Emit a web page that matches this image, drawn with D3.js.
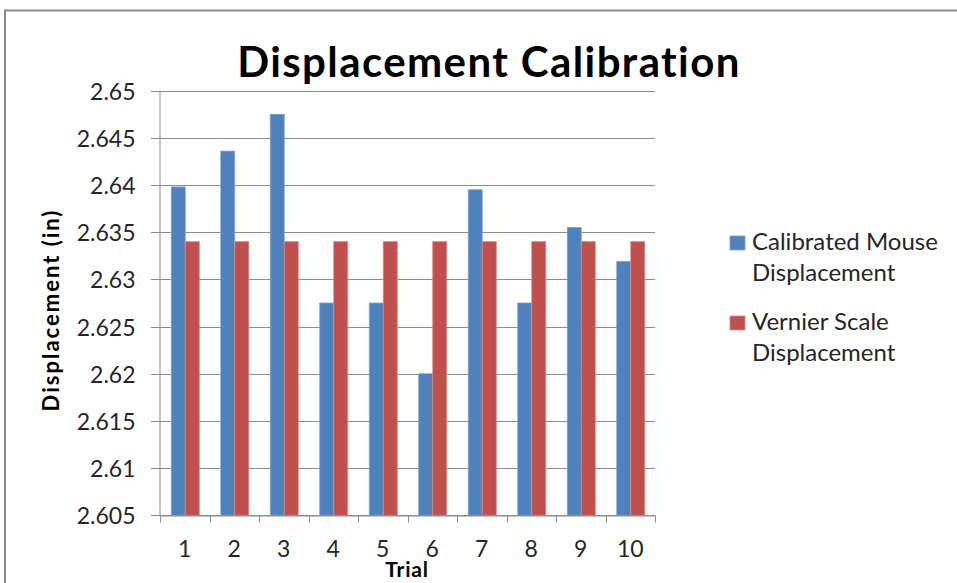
<!DOCTYPE html>
<html>
<head>
<meta charset="utf-8">
<script src="https://cdn.jsdelivr.net/npm/d3@7"></script>
<style>
  html, body { margin: 0; padding: 0; background: #fff; }
  svg { display: block; }
  text { font-family: Lato, "Open Sans", sans-serif; }
</style>
</head>
<body>
<svg id="chart" width="957" height="583"></svg>
<script>
// Trials and the two displacement series (inches)
const trials = ["1", "2", "3", "4", "5", "6", "7", "8", "9", "10"];
const calibratedMouse = [2.6398, 2.6436, 2.6475, 2.6275, 2.6275, 2.6200, 2.6395, 2.6275, 2.6355, 2.6319];
const vernierScale = [2.634, 2.634, 2.634, 2.634, 2.634, 2.634, 2.634, 2.634, 2.634, 2.634];
const seriesNames = ["Calibrated Mouse Displacement", "Vernier Scale Displacement"];
const yTicks = [2.605, 2.61, 2.615, 2.62, 2.625, 2.63, 2.635, 2.64, 2.645, 2.65];

const colors = ["#4F81BD", "#C0504D"];
const edges = ["#7da3d4", "#d98886"];

const svg = d3.select("#chart");
const plot = { left: 160, right: 655, top: 90.7, bottom: 515.3 };

// chart frame
svg.append("path")
  .attr("d", "M5,583 L5,10.5 L957,10.5")
  .attr("fill", "none")
  .attr("stroke", "#8a8a8a")
  .attr("stroke-width", 2);

const x = d3.scaleBand().domain(trials).range([plot.left, plot.right]);
const barW = x.bandwidth() * 0.283;
const inner = d3.scaleBand().domain([0, 1]).range([0, barW * 2]);
const y = d3.scaleLinear().domain([2.605, 2.65]).range([plot.bottom, plot.top]);

// horizontal gridlines
svg.append("g").selectAll("line").data(yTicks).join("line")
  .attr("x1", plot.left - 9).attr("x2", plot.right)
  .attr("y1", d => Math.round(y(d)) + 0.5).attr("y2", d => Math.round(y(d)) + 0.5)
  .attr("stroke", "#8c8c8c").attr("stroke-width", 1);

// y axis
const yAxis = d3.axisLeft(y).tickValues(yTicks).tickSize(0).tickPadding(0)
  .tickFormat(d => d3.format("")(+d.toFixed(3)));
const yg = svg.append("g").attr("transform", `translate(${plot.left - 0.5},0.5)`).call(yAxis);
yg.select(".domain").attr("stroke", "#8c8c8c");
yg.selectAll("text")
  .attr("x", -24).attr("dy", "0.35em")
  .attr("font-size", 23).attr("fill", "#262626")
  .attr("font-family", "Lato, sans-serif");

// bars
const series = [calibratedMouse, vernierScale];
series.forEach((vals, si) => {
  svg.append("g").selectAll("rect").data(vals).join("rect")
    .attr("x", (d, i) => x(trials[i]) + (x.bandwidth() - barW * 2) / 2 + inner(si) + 0.5)
    .attr("width", inner.bandwidth())
    .attr("y", d => y(d))
    .attr("height", d => plot.bottom - y(d))
    .attr("fill", colors[si])
    .attr("stroke", edges[si])
    .attr("stroke-width", 0.8);
});

// x axis
const xAxis = d3.axisBottom(x).tickSize(0).tickPadding(0);
const xg = svg.append("g").attr("transform", `translate(0,${Math.round(plot.bottom) + 0.5})`).call(xAxis);
xg.select(".domain").attr("stroke", "#8c8c8c");
xg.selectAll("text")
  .attr("y", 33).attr("dy", "0.35em")
  .attr("font-size", 23).attr("fill", "#262626")
  .attr("font-family", "Lato, sans-serif");
// category boundary ticks
xg.append("g").selectAll("line")
  .data(trials.map(t => x(t)).concat([plot.right]))
  .join("line")
  .attr("x1", d => Math.round(d) + 0.5).attr("x2", d => Math.round(d) + 0.5)
  .attr("y1", 0).attr("y2", 7)
  .attr("stroke", "#8c8c8c");

// title
svg.append("text")
  .attr("x", 489).attr("y", 77)
  .attr("text-anchor", "middle")
  .attr("font-size", 42).attr("font-weight", "bold")
  .attr("letter-spacing", 1.4)
  .attr("fill", "#000")
  .text("Displacement Calibration");

// axis titles
svg.append("text")
  .attr("x", 407).attr("y", 577)
  .attr("text-anchor", "middle")
  .attr("font-size", 21).attr("font-weight", "bold")
  .attr("letter-spacing", 0.8)
  .attr("fill", "#000")
  .text("Trial");

svg.append("text")
  .attr("transform", "translate(59,310) rotate(-90)")
  .attr("text-anchor", "middle")
  .attr("font-size", 22).attr("font-weight", "bold")
  .attr("letter-spacing", 2)
  .attr("fill", "#000")
  .text("Displacement (in)");

// legend
const legend = svg.append("g").attr("transform", "translate(730,236)");
const legendLines = seriesNames.map(n => {
  const parts = n.split(" ");
  const last = parts.pop();
  return [parts.join(" "), last];
});
legendLines.forEach((lines, i) => {
  const g = legend.append("g").attr("transform", `translate(0,${i * 80})`);
  g.append("rect").attr("x", 0).attr("y", 0).attr("width", 15).attr("height", 14)
    .attr("fill", colors[i]).attr("stroke", edges[i]).attr("stroke-width", 0.8);
  lines.forEach((ln, j) => {
    g.append("text")
      .attr("x", 22).attr("y", 14 + j * 31)
      .attr("font-size", 24).attr("fill", "#262626")
      .text(ln);
  });
});
</script>
</body>
</html>
